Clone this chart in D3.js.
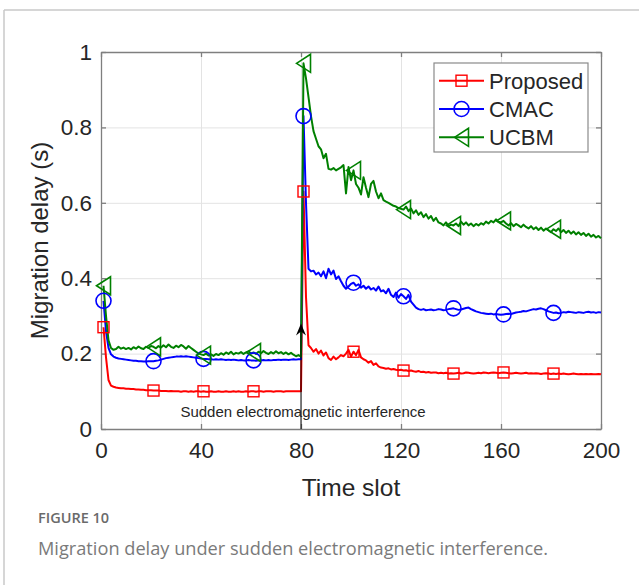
<!DOCTYPE html>
<html><head><meta charset="utf-8">
<script src="https://cdn.jsdelivr.net/npm/d3@7/dist/d3.min.js"></script>
<style>body{margin:0;background:#fff;}svg{display:block;}</style>
</head><body>
<svg id="chart" width="639" height="585"></svg>
<script>
// ---------------- data ----------------
const seriesNames = ["Proposed", "CMAC", "UCBM"];
const xTicks = [0, 40, 80, 120, 160, 200];
const yTicks = [0, 0.2, 0.4, 0.6, 0.8, 1];
const yTickLabels = ["0", "0.2", "0.4", "0.6", "0.8", "1"];
const markerSlots = [1, 21, 41, 61, 81, 101, 121, 141, 161, 181];
const interferenceSlot = 80;
const arrowTipValue = 0.28;
const annotationText = "Sudden electromagnetic interference";

// delay values for time slots 1..200
const proposed = [
0.270,0.190,0.130,0.115,0.112,0.110,0.109,0.108,0.108,0.107,
0.107,0.106,0.106,0.105,0.105,0.104,0.104,0.103,0.103,0.103,
0.102,0.102,0.102,0.101,0.101,0.101,0.100,0.101,0.100,0.100,
0.100,0.099,0.100,0.100,0.099,0.100,0.099,0.100,0.100,0.099,
0.100,0.099,0.099,0.100,0.099,0.099,0.100,0.099,0.099,0.100,
0.099,0.099,0.100,0.099,0.100,0.099,0.099,0.100,0.099,0.100,
0.100,0.099,0.100,0.100,0.099,0.100,0.100,0.100,0.099,0.100,
0.100,0.100,0.099,0.100,0.100,0.100,0.100,0.100,0.100,0.100,
0.630,0.350,0.222,0.215,0.205,0.212,0.200,0.208,0.195,0.203,
0.188,0.183,0.192,0.185,0.190,0.196,0.193,0.200,0.210,0.192,
0.205,0.196,0.210,0.190,0.185,0.182,0.176,0.180,0.170,0.174,
0.166,0.163,0.162,0.160,0.161,0.158,0.159,0.157,0.156,0.157,
0.155,0.156,0.154,0.155,0.153,0.152,0.154,0.151,0.152,0.150,
0.151,0.149,0.150,0.150,0.148,0.149,0.148,0.149,0.147,0.148,
0.147,0.148,0.149,0.147,0.148,0.150,0.149,0.148,0.147,0.148,
0.149,0.148,0.150,0.149,0.148,0.149,0.150,0.149,0.148,0.149,
0.150,0.149,0.148,0.147,0.148,0.149,0.148,0.147,0.148,0.149,
0.147,0.148,0.147,0.148,0.147,0.146,0.147,0.148,0.147,0.146,
0.147,0.146,0.147,0.146,0.147,0.146,0.145,0.146,0.147,0.146,
0.145,0.146,0.145,0.146,0.145,0.146,0.145,0.145,0.146,0.145];

const cmac = [
0.340,0.260,0.215,0.198,0.192,0.189,0.187,0.186,0.185,0.184,
0.183,0.182,0.181,0.181,0.180,0.180,0.179,0.179,0.180,0.180,
0.180,0.181,0.182,0.184,0.186,0.188,0.189,0.190,0.191,0.192,
0.192,0.193,0.192,0.193,0.192,0.191,0.190,0.189,0.188,0.187,
0.186,0.186,0.185,0.185,0.184,0.185,0.184,0.185,0.184,0.183,
0.184,0.183,0.184,0.183,0.182,0.183,0.182,0.182,0.183,0.182,
0.182,0.181,0.182,0.182,0.183,0.182,0.183,0.182,0.183,0.183,
0.184,0.183,0.184,0.184,0.183,0.184,0.185,0.184,0.185,0.185,
0.830,0.600,0.425,0.418,0.420,0.410,0.415,0.405,0.418,0.400,
0.425,0.410,0.420,0.398,0.405,0.392,0.380,0.372,0.378,0.385,
0.388,0.380,0.384,0.375,0.380,0.372,0.378,0.370,0.374,0.367,
0.378,0.365,0.368,0.360,0.372,0.356,0.350,0.362,0.348,0.358,
0.352,0.345,0.356,0.338,0.330,0.322,0.318,0.316,0.318,0.315,
0.316,0.317,0.315,0.316,0.318,0.317,0.315,0.316,0.318,0.319,
0.320,0.318,0.316,0.317,0.319,0.321,0.322,0.318,0.315,0.312,
0.310,0.308,0.307,0.306,0.305,0.306,0.304,0.305,0.304,0.303,
0.304,0.305,0.306,0.305,0.307,0.309,0.310,0.311,0.313,0.312,
0.314,0.316,0.318,0.317,0.319,0.320,0.318,0.315,0.312,0.310,
0.308,0.309,0.307,0.308,0.310,0.309,0.311,0.310,0.309,0.308,
0.310,0.309,0.308,0.310,0.311,0.309,0.310,0.308,0.310,0.309];

const ucbm = [
0.380,0.300,0.235,0.215,0.210,0.212,0.218,0.213,0.216,0.212,
0.215,0.211,0.217,0.213,0.219,0.214,0.212,0.218,0.215,0.220,
0.218,0.214,0.220,0.216,0.222,0.217,0.224,0.218,0.215,0.221,
0.217,0.223,0.219,0.213,0.220,0.215,0.210,0.205,0.200,0.198,
0.196,0.200,0.195,0.198,0.194,0.199,0.196,0.201,0.197,0.203,
0.199,0.205,0.198,0.202,0.200,0.204,0.199,0.203,0.206,0.200,
0.203,0.199,0.205,0.201,0.207,0.202,0.199,0.204,0.200,0.206,
0.201,0.204,0.199,0.203,0.198,0.202,0.197,0.193,0.196,0.192,
0.970,0.930,0.880,0.830,0.790,0.770,0.750,0.742,0.718,0.730,
0.690,0.688,0.692,0.686,0.690,0.694,0.700,0.625,0.695,0.660,
0.686,0.650,0.640,0.622,0.668,0.640,0.615,0.650,0.658,0.630,
0.612,0.625,0.607,0.603,0.600,0.596,0.592,0.590,0.586,0.584,
0.582,0.590,0.578,0.585,0.572,0.580,0.568,0.575,0.562,0.570,
0.558,0.565,0.552,0.560,0.548,0.545,0.540,0.548,0.538,0.542,
0.540,0.545,0.538,0.550,0.542,0.548,0.540,0.545,0.538,0.544,
0.540,0.546,0.542,0.550,0.545,0.552,0.548,0.556,0.550,0.548,
0.552,0.545,0.540,0.546,0.538,0.544,0.540,0.535,0.542,0.536,
0.532,0.538,0.530,0.535,0.528,0.534,0.526,0.532,0.527,0.522,
0.530,0.525,0.532,0.522,0.528,0.520,0.526,0.518,0.524,0.516,
0.522,0.515,0.520,0.512,0.518,0.510,0.515,0.508,0.512,0.506];

// ---------------- drawing ----------------
const svg = d3.select("#chart");
const W = 639, H = 585;
const plot = {left: 101, right: 601, top: 52, bottom: 429};
const font = "'Liberation Sans', Arial, Helvetica, sans-serif";
const txtColor = "#262626";

// card frame
svg.append("line").attr("x1", 4).attr("x2", W).attr("y1", 10).attr("y2", 10)
  .attr("stroke", "#c8c8c8").attr("stroke-width", 1.5);
svg.append("line").attr("x1", 4).attr("x2", 4).attr("y1", 10).attr("y2", H)
  .attr("stroke", "#c8c8c8").attr("stroke-width", 1.5);

const x = d3.scaleLinear().domain([0, 200]).range([plot.left, plot.right]);
const y = d3.scaleLinear().domain([0, 1]).range([plot.bottom, plot.top]);
const pw = plot.right - plot.left, ph = plot.bottom - plot.top;

// grid
const grid = svg.append("g");
grid.append("g").attr("transform", `translate(0,${plot.bottom})`)
  .call(d3.axisBottom(x).tickValues(xTicks).tickSize(-ph).tickFormat(""))
  .call(g => g.select(".domain").remove())
  .call(g => g.selectAll("line").attr("stroke", "#e3e3e3").attr("stroke-width", 1));
grid.append("g").attr("transform", `translate(${plot.left},0)`)
  .call(d3.axisLeft(y).tickValues(yTicks).tickSize(-pw).tickFormat(""))
  .call(g => g.select(".domain").remove())
  .call(g => g.selectAll("line").attr("stroke", "#e3e3e3").attr("stroke-width", 1));

// axes box
const axColor = "#7f7f7f";
function styleAxis(g) {
  g.select(".domain").attr("stroke", axColor).attr("stroke-width", 1.3);
  g.selectAll(".tick line").attr("stroke", axColor).attr("stroke-width", 1.3);
  g.selectAll("text").attr("font-family", font).attr("font-size", 22.5).attr("fill", txtColor);
}
svg.append("g").attr("transform", `translate(0,${plot.bottom})`)
  .call(d3.axisBottom(x).tickValues(xTicks).tickSizeInner(-5).tickSizeOuter(0).tickPadding(13))
  .call(styleAxis);
svg.append("g").attr("transform", `translate(0,${plot.top})`)
  .call(d3.axisTop(x).tickValues(xTicks).tickSizeInner(-5).tickSizeOuter(0).tickFormat(""))
  .call(styleAxis);
svg.append("g").attr("transform", `translate(${plot.left},0)`)
  .call(d3.axisLeft(y).tickValues(yTicks).tickSizeInner(-5).tickSizeOuter(0).tickPadding(9)
        .tickFormat((d, i) => yTickLabels[i]))
  .call(styleAxis);
svg.append("g").attr("transform", `translate(${plot.right},0)`)
  .call(d3.axisRight(y).tickValues(yTicks).tickSizeInner(-5).tickSizeOuter(0).tickFormat(""))
  .call(styleAxis);

// axis labels
svg.append("text").attr("x", (plot.left + plot.right) / 2).attr("y", 496)
  .attr("text-anchor", "middle").attr("font-family", font).attr("font-size", 24.5)
  .attr("fill", txtColor).text("Time slot");
svg.append("text").attr("transform", `translate(48,${(plot.top + plot.bottom) / 2}) rotate(-90)`)
  .attr("text-anchor", "middle").attr("font-family", font).attr("font-size", 24)
  .attr("fill", txtColor).text("Migration delay (s)");

// series
const series = [
  {name: seriesNames[0], values: proposed, color: "#ff0000", marker: "square"},
  {name: seriesNames[1], values: cmac, color: "#0000ff", marker: "circle"},
  {name: seriesNames[2], values: ucbm, color: "#008000", marker: "triangle"}
];

function drawMarker(g, type, cx, cy, color) {
  if (type === "square") {
    g.append("rect").attr("x", cx - 5.5).attr("y", cy - 5.5).attr("width", 11).attr("height", 11)
      .attr("fill", "none").attr("stroke", color).attr("stroke-width", 1.4);
  } else if (type === "circle") {
    g.append("circle").attr("cx", cx).attr("cy", cy).attr("r", 7.5)
      .attr("fill", "none").attr("stroke", color).attr("stroke-width", 1.6);
  } else {
    const pts = [[cx - 7, cy], [cx + 7, cy - 9], [cx + 7, cy + 9]];
    g.append("polygon").attr("points", pts.map(p => p.join(",")).join(" "))
      .attr("fill", "none").attr("stroke", color).attr("stroke-width", 1.6);
  }
}

const line = d3.line().x((d, i) => x(i + 1)).y(d => y(d));
const linesG = svg.append("g");
series.forEach(s => {
  linesG.append("path").datum(s.values).attr("d", line)
    .attr("fill", "none").attr("stroke", s.color).attr("stroke-width", 2)
    .attr("stroke-linejoin", "round");
});
series.forEach(s => {
  const mg = svg.append("g");
  markerSlots.forEach(t => drawMarker(mg, s.marker, x(t), y(s.values[t - 1]), s.color));
});

// annotation arrow
const ax = x(interferenceSlot);
const tipY = y(arrowTipValue);
svg.append("line").attr("x1", ax).attr("x2", ax).attr("y1", y(0)).attr("y2", tipY + 6)
  .attr("stroke", "#000").attr("stroke-width", 1);
svg.append("polygon")
  .attr("points", [[ax, tipY], [ax + 5, tipY + 12], [ax, tipY + 8], [ax - 5, tipY + 12]].map(p => p.join(",")).join(" "))
  .attr("fill", "#000");
svg.append("text").attr("x", ax + 2).attr("y", 417).attr("text-anchor", "middle")
  .attr("font-family", font).attr("font-size", 15).attr("fill", txtColor).text(annotationText);

// legend
const lg = svg.append("g");
lg.append("rect").attr("x", 434).attr("y", 63).attr("width", 154).attr("height", 89)
  .attr("fill", "#fff").attr("stroke", "#8a8a8a").attr("stroke-width", 1.2);
series.forEach((s, i) => {
  const ly = 80.7 + i * 28.3;
  lg.append("line").attr("x1", 439).attr("x2", 484).attr("y1", ly).attr("y2", ly)
    .attr("stroke", s.color).attr("stroke-width", 2);
  drawMarker(lg, s.marker, 461.5, ly, s.color);
  lg.append("text").attr("x", 489).attr("y", ly).attr("dy", "0.36em")
    .attr("font-family", font).attr("font-size", 22).attr("fill", txtColor).text(s.name);
});

// caption
svg.append("text").attr("x", 38).attr("y", 523).attr("font-family", "'Open Sans', 'Noto Sans', sans-serif")
  .attr("font-weight", 600).attr("font-size", 14.5).attr("fill", "#6a6a6a").text("FIGURE 10");
svg.append("text").attr("x", 38).attr("y", 555).attr("font-family", "'Open Sans', 'Noto Sans', sans-serif")
  .attr("font-size", 18.2).attr("fill", "#7a7a7a").text("Migration delay under sudden electromagnetic interference.");
</script>
</body></html>
